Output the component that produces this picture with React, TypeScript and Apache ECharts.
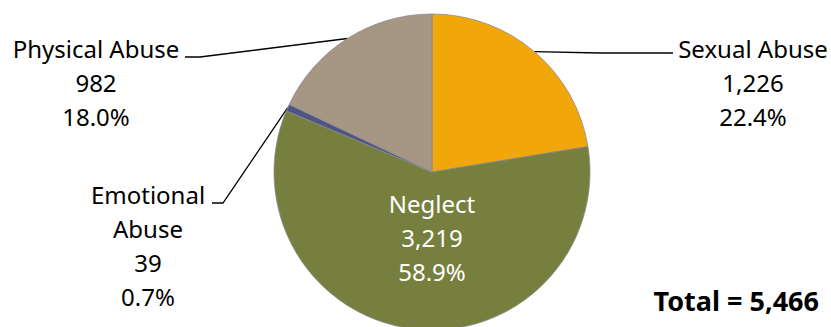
import React, { useEffect, useRef } from 'react';
import * as echarts from 'echarts';

const categories = ['Sexual Abuse', 'Neglect', 'Emotional Abuse', 'Physical Abuse'];
const counts = [1226, 3219, 39, 982];
const colors = ['#F1A70A', '#767F3E', '#4E5585', '#A69684'];
const totalLabel = 'Total';

const fmt = (n: number) => String(n).replace(/\B(?=(\d{3})+(?!\d))/g, ',');

export default function App() {
  const ref = useRef<HTMLDivElement>(null);
  useEffect(() => {
    const chart = echarts.init(ref.current!, null, { renderer: 'svg' });
    const total = counts.reduce((a, b) => a + b, 0);
    const labelPos: { x: number; y: number; line: number[][] | null }[] = [
      { x: 753, y: 31, line: [[600, 53], [673, 53]] },
      { x: 432, y: 186, line: null },
      { x: 148, y: 177, line: [[223, 203], [212, 203]] },
      { x: 96, y: 31, line: [[200, 57], [185, 57]] },
    ];
    chart.setOption({
      animation: false,
      backgroundColor: '#ffffff',
      title: {
        text: `${totalLabel} = ${fmt(total)}`,
        right: 7,
        top: 282,
        textStyle: { fontFamily: 'Noto Sans', fontSize: 27, fontWeight: 'bold', color: '#000' },
      },
      series: [
        {
          type: 'pie',
          center: [432, 172],
          radius: 158,
          startAngle: 90,
          clockwise: true,
          avoidLabelOverlap: false,
          percentPrecision: 1,
          itemStyle: { borderColor: '#8c8c8c', borderWidth: 0.8 },
          label: {
            show: true,
            position: 'outside',
            fontFamily: 'Noto Sans',
            fontSize: 24,
            lineHeight: 34,
            color: '#000',
            align: 'center',
            formatter: (p: any) => {
              const name = p.dataIndex === 2 ? p.name.replace(' ', '\n') : p.name;
              return `${name}\n${fmt(p.value)}\n${Number(p.percent).toFixed(1)}%`;
            },
          },
          labelLine: { show: true, lineStyle: { color: '#000', width: 1.3 } },
          labelLayout: (params: any) => {
            const pos = labelPos[params.dataIndex];
            const res: any = { x: pos.x, y: pos.y, align: 'center', verticalAlign: 'top' };
            if (pos.line && params.labelLinePoints) {
              res.labelLinePoints = [params.labelLinePoints[0], pos.line[0], pos.line[1]];
            }
            return res;
          },
          data: categories.map((name, i) => ({
            name,
            value: counts[i],
            itemStyle: { color: colors[i] },
            ...(i === 1
              ? { label: { position: 'inside', color: '#fff' }, labelLine: { show: false } }
              : {}),
          })),
        },
      ],
    });
    return () => chart.dispose();
  }, []);
  return <div ref={ref} style={{ position: 'absolute', left: 0, top: 0, width: 831, height: 327 }} />;
}
